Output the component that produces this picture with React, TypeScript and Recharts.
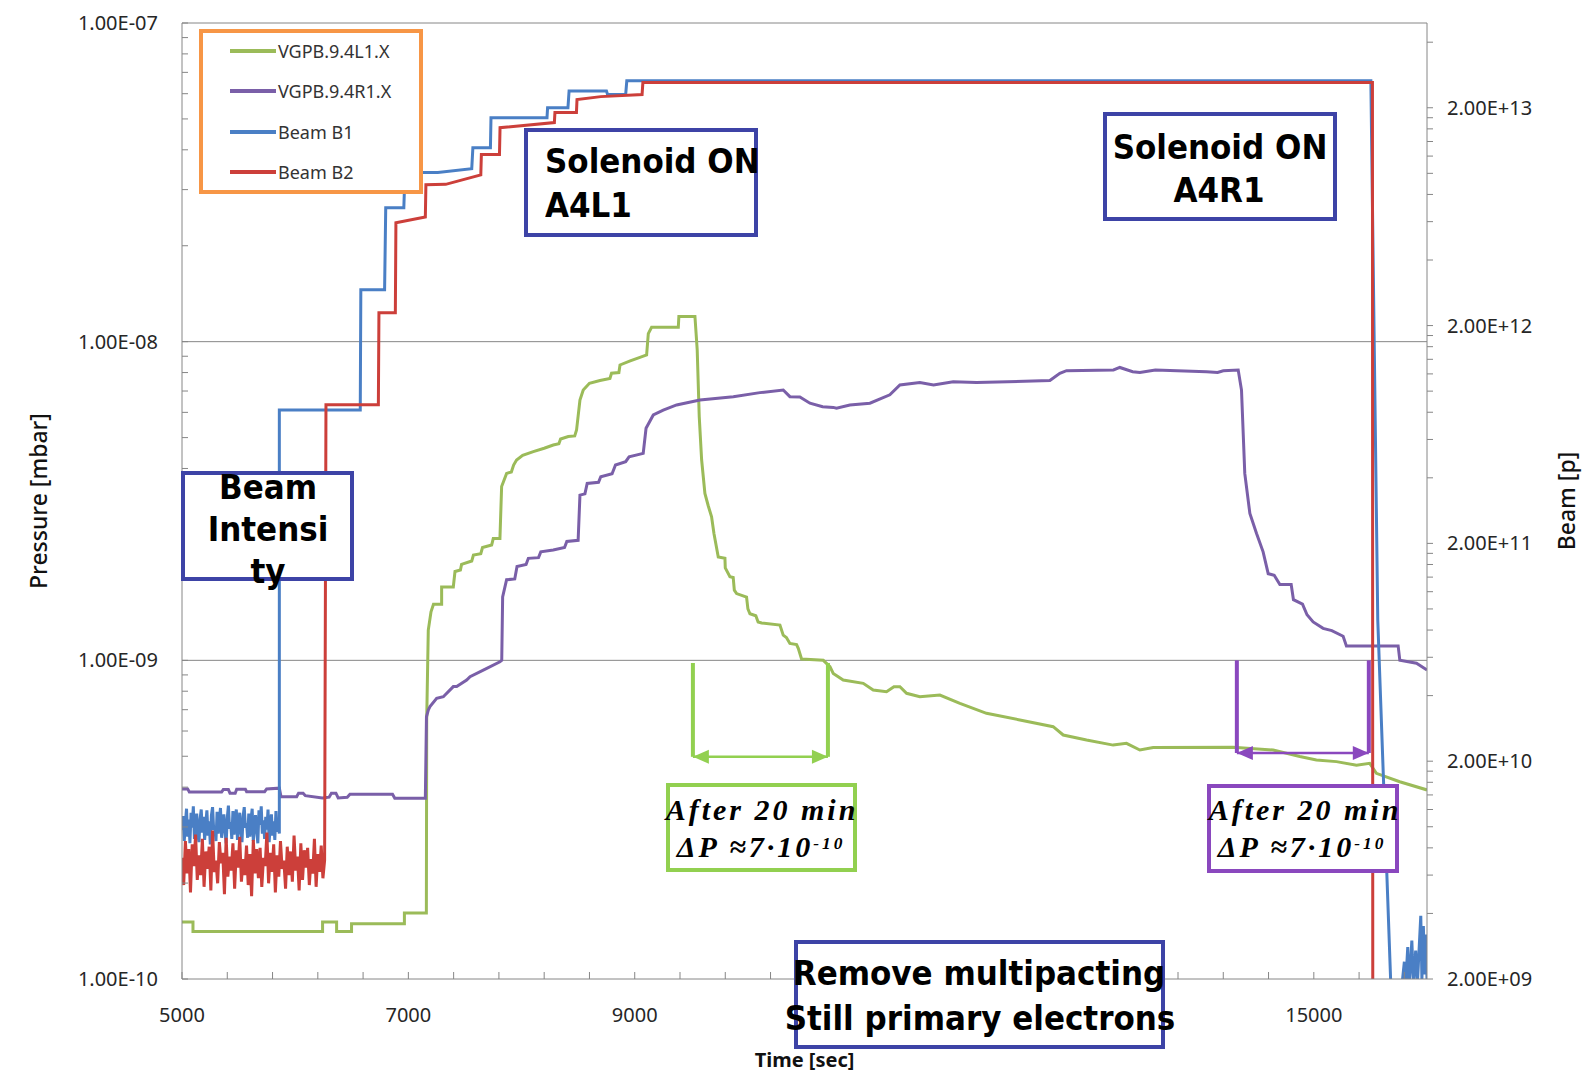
import React from 'react';
import { LineChart, Line, XAxis, YAxis, ReferenceLine } from 'recharts';

type Pt = [number, number];

// x axis: tick every 400 s; 11000 and 13000 sit under the note box, so only these are labelled
const xTicks = [
  5000, 5400, 5800, 6200, 6600, 7000, 7400, 7800, 8200, 8600, 9000, 9400, 9800, 10200,
  10600, 11000, 11400, 11800, 12200, 12600, 13000, 13400, 13800, 14200, 14600, 15000, 15400, 15800,
];
const xTickLabels = [5000, 7000, 9000, 15000];

const pressureTicks = [
  1e-10, 2e-10, 3e-10, 4e-10, 5e-10, 6e-10, 7e-10, 8e-10, 9e-10,
  1e-9, 2e-9, 3e-9, 4e-9, 5e-9, 6e-9, 7e-9, 8e-9, 9e-9,
  1e-8, 2e-8, 3e-8, 4e-8, 5e-8, 6e-8, 7e-8, 8e-8, 9e-8, 1e-7,
];
const pressureTickLabels = [1e-10, 1e-9, 1e-8, 1e-7];
const pressureGrid = [1e-9, 1e-8, 1e-7];

const beamTicks = [
  2e9, 4e9, 6e9, 8e9, 1e10, 1.2e10, 1.4e10, 1.6e10, 1.8e10,
  2e10, 4e10, 6e10, 8e10, 1e11, 1.2e11, 1.4e11, 1.6e11, 1.8e11,
  2e11, 4e11, 6e11, 8e11, 1e12, 1.2e12, 1.4e12, 1.6e12, 1.8e12,
  2e12, 4e12, 6e12, 8e12, 1e13, 1.2e13, 1.4e13, 1.6e13, 1.8e13,
  2e13, 4e13,
];
const beamTickLabels = [2e9, 2e10, 2e11, 2e12, 2e13];

// VGPB.9.4L1.X  [time s, mbar]
const vgpbL1: Pt[] = [
  [5000, 1.51e-10], [5097, 1.51e-10], [5097, 1.41e-10], [6242, 1.41e-10], [6242, 1.51e-10],
  [6366, 1.51e-10], [6366, 1.41e-10], [6498, 1.41e-10], [6498, 1.49e-10], [6965, 1.49e-10],
  [6965, 1.61e-10], [7159, 1.61e-10], [7162, 6.5e-10], [7176, 1.245e-9], [7200, 1.42e-9],
  [7222, 1.5e-9], [7294, 1.5e-9], [7294, 1.7e-9], [7397, 1.7e-9], [7412, 1.9e-9],
  [7460, 1.92e-9], [7470, 2.0e-9], [7560, 2.05e-9], [7575, 2.14e-9], [7640, 2.16e-9],
  [7655, 2.26e-9], [7736, 2.3e-9], [7750, 2.41e-9], [7809, 2.41e-9], [7824, 3.51e-9],
  [7868, 3.86e-9], [7910, 3.9e-9], [7930, 4.1e-9], [7956, 4.25e-9], [8010, 4.4e-9],
  [8104, 4.52e-9], [8200, 4.63e-9], [8280, 4.74e-9], [8330, 4.78e-9], [8345, 4.95e-9],
  [8413, 5.04e-9], [8470, 5.06e-9], [8486, 5.28e-9], [8516, 6.56e-9], [8545, 7.05e-9],
  [8600, 7.4e-9], [8693, 7.55e-9], [8781, 7.67e-9], [8795, 7.96e-9], [8860, 8.0e-9],
  [8870, 8.45e-9], [8960, 8.7e-9], [9046, 8.93e-9], [9105, 9.08e-9], [9120, 1.06e-8],
  [9149, 1.11e-8], [9385, 1.11e-8], [9390, 1.2e-8], [9532, 1.2e-8], [9552, 9.42e-9],
  [9570, 5.82e-9], [9591, 4.26e-9], [9620, 3.34e-9], [9650, 3.05e-9], [9679, 2.82e-9],
  [9700, 2.5e-9], [9738, 2.11e-9], [9797, 2.09e-9], [9800, 1.95e-9], [9841, 1.83e-9],
  [9870, 1.82e-9], [9880, 1.66e-9], [9900, 1.62e-9], [9988, 1.58e-9], [10000, 1.45e-9],
  [10018, 1.4e-9], [10070, 1.38e-9], [10090, 1.32e-9], [10121, 1.31e-9], [10283, 1.29e-9],
  [10312, 1.2e-9], [10340, 1.18e-9], [10371, 1.13e-9], [10430, 1.12e-9], [10445, 1.09e-9],
  [10474, 1.01e-9], [10666, 1.0e-9], [10725, 9.55e-10], [10754, 9.1e-10], [10842, 8.67e-10],
  [11019, 8.47e-10], [11107, 8.07e-10], [11225, 7.97e-10], [11290, 8.26e-10], [11343, 8.26e-10],
  [11402, 7.88e-10], [11519, 7.69e-10], [11696, 7.78e-10], [11873, 7.33e-10], [12108, 6.82e-10],
  [12403, 6.5e-10], [12697, 6.19e-10], [12786, 5.83e-10], [12992, 5.62e-10], [13227, 5.42e-10],
  [13345, 5.49e-10], [13463, 5.23e-10], [13581, 5.33e-10], [14287, 5.34e-10], [14641, 5.23e-10],
  [14876, 4.99e-10], [15023, 4.87e-10], [15200, 4.81e-10], [15377, 4.69e-10], [15494, 4.75e-10],
  [15553, 4.42e-10], [15759, 4.16e-10], [16000, 3.92e-10],
];

// VGPB.9.4R1.X  [time s, mbar]
const vgpbR1: Pt[] = [
  [5000, 3.95e-10], [5050, 3.95e-10], [5065, 3.86e-10], [5350, 3.86e-10], [5365, 3.93e-10],
  [5410, 3.93e-10], [5424, 3.83e-10], [5470, 3.83e-10], [5483, 3.94e-10], [5560, 3.94e-10],
  [5571, 3.87e-10], [5730, 3.87e-10], [5748, 3.95e-10], [5860, 3.97e-10], [5875, 3.73e-10],
  [6013, 3.73e-10], [6030, 3.83e-10], [6070, 3.83e-10], [6090, 3.76e-10], [6240, 3.7e-10],
  [6300, 3.72e-10], [6320, 3.83e-10], [6360, 3.83e-10], [6380, 3.7e-10], [6460, 3.72e-10],
  [6484, 3.8e-10], [6860, 3.8e-10], [6880, 3.69e-10], [7150, 3.69e-10], [7160, 6.65e-10],
  [7176, 6.98e-10], [7191, 7.16e-10], [7250, 7.6e-10], [7309, 7.69e-10], [7397, 8.27e-10],
  [7427, 8.27e-10], [7515, 8.67e-10], [7545, 8.89e-10], [7662, 9.32e-10], [7809, 9.9e-10],
  [7825, 1.0e-9], [7833, 1.58e-9], [7868, 1.79e-9], [7940, 1.8e-9], [7960, 1.97e-9],
  [8040, 2.0e-9], [8060, 2.09e-9], [8150, 2.1e-9], [8170, 2.19e-9], [8280, 2.22e-9],
  [8380, 2.26e-9], [8400, 2.36e-9], [8500, 2.38e-9], [8516, 3.3e-9], [8560, 3.33e-9],
  [8580, 3.59e-9], [8680, 3.62e-9], [8700, 3.77e-9], [8800, 3.85e-9], [8830, 4.1e-9],
  [8920, 4.2e-9], [8950, 4.35e-9], [9075, 4.46e-9], [9100, 5.35e-9], [9164, 5.89e-9],
  [9252, 6.1e-9], [9370, 6.33e-9], [9576, 6.56e-9], [9871, 6.72e-9], [10106, 6.92e-9],
  [10312, 7.05e-9], [10371, 6.72e-9], [10459, 6.7e-9], [10548, 6.41e-9], [10660, 6.25e-9],
  [10754, 6.22e-9], [10783, 6.18e-9], [10901, 6.33e-9], [11078, 6.41e-9], [11254, 6.81e-9],
  [11343, 7.31e-9], [11519, 7.44e-9], [11640, 7.31e-9], [11814, 7.49e-9], [12020, 7.44e-9],
  [12668, 7.55e-9], [12756, 7.96e-9], [12815, 8.11e-9], [13230, 8.15e-9], [13286, 8.3e-9],
  [13400, 8.05e-9], [13463, 8.0e-9], [13600, 8.15e-9], [14052, 8.05e-9], [14150, 8.0e-9],
  [14200, 8.1e-9], [14332, 8.15e-9], [14361, 7.05e-9], [14390, 3.86e-9], [14435, 2.89e-9],
  [14494, 2.5e-9], [14552, 2.19e-9], [14597, 1.87e-9], [14650, 1.85e-9], [14700, 1.73e-9],
  [14800, 1.73e-9], [14820, 1.55e-9], [14900, 1.5e-9], [14940, 1.39e-9], [14994, 1.32e-9],
  [15082, 1.26e-9], [15159, 1.24e-9], [15259, 1.19e-9], [15288, 1.11e-9], [15745, 1.11e-9],
  [15760, 1.0e-9], [15907, 9.79e-10], [16000, 9.33e-10],
];

// Beam B1  [time s, protons]; noisy pilot readings before injection
const beamB1: Pt[] = [
  [5000, 9.6e9], [5010, 1.12e10], [5020, 8.6e9], [5030, 1.04e10], [5040, 1.21e10], [5050, 9.0e9],
  [5060, 1.08e10], [5070, 8.4e9], [5080, 1.16e10], [5090, 9.9e9], [5100, 1.24e10], [5110, 8.8e9],
  [5120, 1.01e10], [5130, 1.15e10], [5140, 9.2e9], [5150, 8.5e9], [5160, 1.09e10], [5170, 1.2e10],
  [5180, 9.4e9], [5190, 1.11e10], [5200, 8.7e9], [5210, 1.03e10], [5220, 1.19e10], [5230, 9.1e9],
  [5240, 1.06e10], [5250, 8.3e9], [5260, 1.13e10], [5270, 1.23e10], [5280, 9.7e9], [5290, 1.0e10],
  [5300, 8.6e9], [5310, 1.17e10], [5320, 9.3e9], [5330, 1.07e10], [5340, 1.22e10], [5350, 8.9e9],
  [5360, 1.02e10], [5370, 1.14e10], [5380, 9.5e9], [5390, 8.4e9], [5400, 1.1e10], [5410, 1.25e10],
  [5420, 9.8e9], [5430, 1.05e10], [5440, 8.8e9], [5450, 1.18e10], [5460, 9.2e9], [5470, 1.09e10],
  [5480, 1.2e10], [5490, 8.7e9], [5500, 1.01e10], [5510, 1.16e10], [5520, 9.4e9], [5530, 8.5e9],
  [5540, 1.12e10], [5550, 1.23e10], [5560, 9.9e9], [5570, 1.04e10], [5580, 8.9e9], [5590, 1.15e10],
  [5600, 9.0e9], [5610, 1.08e10], [5620, 1.21e10], [5630, 8.6e9], [5640, 1.0e10], [5650, 1.13e10],
  [5660, 9.6e9], [5670, 8.4e9], [5680, 1.19e10], [5690, 1.02e10], [5700, 1.24e10], [5710, 9.3e9],
  [5720, 1.07e10], [5730, 8.8e9], [5740, 1.11e10], [5750, 9.7e9], [5760, 1.2e10], [5770, 8.5e9],
  [5780, 1.03e10], [5790, 1.14e10], [5800, 9.1e9], [5810, 1.06e10], [5820, 8.7e9], [5830, 1.18e10],
  [5840, 9.5e9], [5850, 1.01e10], [5860, 9.3e9],
  [5860, 8.2e11], [6575, 8.2e11], [6580, 2.92e12], [6790, 2.92e12],
  [6800, 6.95e12], [6960, 6.95e12], [6970, 1.01e13], [7260, 1.01e13], [7560, 1.05e13],
  [7570, 1.31e13], [7725, 1.31e13], [7730, 1.8e13], [8225, 1.8e13], [8230, 2.0e13],
  [8410, 2.0e13], [8420, 2.39e13], [8750, 2.39e13], [8760, 2.3e13], [8920, 2.3e13],
  [8930, 2.66e13], [15504, 2.66e13], [15565, 8.9e10], [15680, 1.9e9], [15700, 1.8e9],
  [15780, 1.9e9], [15800, 2.4e9], [15812, 1.9e9], [15830, 2.8e9], [15842, 1.9e9], [15852, 2.2e9],
  [15866, 3.0e9], [15880, 1.9e9], [15900, 2.7e9], [15915, 1.9e9], [15945, 3.9e9], [15955, 2.0e9],
  [15968, 3.5e9], [15978, 2.1e9], [15990, 3.2e9], [16000, 2.0e9],
];

// Beam B2  [time s, protons]
const beamB2: Pt[] = [
  [5000, 7.2e9], [5015, 5.4e9], [5030, 8.6e9], [5045, 6.1e9], [5060, 7.9e9], [5075, 5.0e9],
  [5090, 8.3e9], [5105, 6.6e9], [5120, 9.2e9], [5135, 5.7e9], [5150, 7.4e9], [5165, 6.0e9],
  [5180, 8.8e9], [5195, 5.3e9], [5210, 7.7e9], [5225, 6.4e9], [5240, 8.1e9], [5255, 5.1e9],
  [5270, 9.6e9], [5285, 6.2e9], [5300, 7.0e9], [5315, 5.5e9], [5330, 8.5e9], [5345, 6.8e9],
  [5360, 7.6e9], [5375, 4.9e9], [5390, 8.9e9], [5405, 5.9e9], [5420, 7.3e9], [5435, 6.3e9],
  [5450, 8.4e9], [5465, 5.2e9], [5480, 7.8e9], [5495, 6.5e9], [5510, 9.0e9], [5525, 5.6e9],
  [5540, 7.1e9], [5555, 6.0e9], [5570, 8.2e9], [5585, 5.4e9], [5600, 7.5e9], [5615, 4.8e9],
  [5630, 8.7e9], [5645, 6.1e9], [5660, 7.9e9], [5675, 5.8e9], [5690, 8.0e9], [5705, 5.3e9],
  [5720, 7.2e9], [5735, 6.6e9], [5750, 9.4e9], [5765, 5.5e9], [5780, 7.6e9], [5795, 6.2e9],
  [5810, 8.3e9], [5825, 5.0e9], [5840, 7.4e9], [5855, 5.9e9], [5870, 8.6e9], [5885, 6.4e9],
  [5900, 7.0e9], [5915, 5.2e9], [5930, 8.1e9], [5945, 6.0e9], [5960, 7.7e9], [5975, 5.6e9],
  [5990, 9.1e9], [6005, 6.3e9], [6020, 7.3e9], [6035, 5.1e9], [6050, 8.4e9], [6065, 5.7e9],
  [6080, 7.8e9], [6095, 6.5e9], [6110, 8.0e9], [6125, 5.4e9], [6140, 7.1e9], [6155, 6.1e9],
  [6170, 8.8e9], [6185, 5.3e9], [6200, 7.5e9], [6215, 6.2e9], [6230, 8.2e9], [6245, 5.8e9],
  [6260, 7.0e9],
  [6272, 8.65e11], [6735, 8.65e11], [6740, 2.29e12], [6885, 2.29e12], [6890, 5.93e12],
  [7150, 6.3e12], [7155, 8.86e12], [7330, 8.9e12], [7640, 9.84e12], [7645, 1.22e13],
  [7805, 1.22e13], [7810, 1.62e13], [8290, 1.71e13], [8295, 1.9e13], [8485, 1.9e13],
  [8490, 2.18e13], [8700, 2.25e13], [9065, 2.3e13], [9072, 2.61e13], [15518, 2.61e13],
  [15521, 1.0e9],
];

// "after 20 min" brackets: [start, end] time, [top, arrow] pressure
const greenBracketX = [9514, 10707];
const greenBracketY = [9.81e-10, 4.98e-10];
const purpleBracketX = [14320, 15486];
const purpleBracketY = [1.0e-9, 5.12e-10];

const series = [
  { name: 'VGPB.9.4L1.X', data: vgpbL1, color: '#9BBB59', axis: 'left' },
  { name: 'VGPB.9.4R1.X', data: vgpbR1, color: '#7A5FA8', axis: 'left' },
  { name: 'Beam B1', data: beamB1, color: '#4A7FC5', axis: 'right' },
  { name: 'Beam B2', data: beamB2, color: '#CC3F3A', axis: 'right' },
];

const AXIS_GREY = '#868686';
const TICK_TEXT = '#262626';
const NAVY = '#3D43A6';
const NOTE_GREEN = '#92D050';
const NOTE_PURPLE = '#8A48BE';
const comic = '"Comic Sans MS", "DejaVu Sans", sans-serif';
const hand = '"Lucida Handwriting", "Liberation Serif", serif';

const pts = (a: Pt[]) => a.map(([x, y]) => ({ x, y }));

const inList = (list: number[], v: number) => list.some((l) => Math.abs(l - v) / l < 1e-6);

const sci = (v: number) => {
  const e = Math.floor(Math.log10(v) + 1e-9);
  const m = v / Math.pow(10, e);
  return `${m.toFixed(2)}E${e < 0 ? '-' : '+'}${String(Math.abs(e)).padStart(2, '0')}`;
};

const arrowShape = (color: string) => (p: any) => {
  const { x1, y1, x2, y2 } = p;
  const head = 16;
  const half = 7;
  return (
    <g>
      <line x1={x1} y1={y1} x2={x2} y2={y2} stroke={color} strokeWidth={2.5} />
      <polygon points={`${x1},${y1} ${x1 + head},${y1 - half} ${x1 + head},${y1 + half}`} fill={color} />
      <polygon points={`${x2},${y2} ${x2 - head},${y2 - half} ${x2 - head},${y2 + half}`} fill={color} />
    </g>
  );
};

type NoteLine = { text: React.ReactNode; x: number; y: number; anchor?: 'start' | 'middle' };
type Note = {
  box: [number, number, number, number];
  color: string;
  font: string;
  size: number;
  squeeze: number;
  italic?: boolean;
  lineHeight: number;
  lines: NoteLine[];
};

const delta = (
  <>
    ΔP ≈7·10
    <sup style={{ fontSize: '0.58em', verticalAlign: '0.45em', lineHeight: 0 }}>-10</sup>
  </>
);

const notes: Note[] = [
  {
    box: [524, 128, 234, 109], color: NAVY, font: comic, size: 33, squeeze: 0.94, lineHeight: 40,
    lines: [
      { text: 'Solenoid ON', x: 545, y: 162, anchor: 'start' },
      { text: 'A4L1', x: 545, y: 206, anchor: 'start' },
    ],
  },
  {
    box: [1103, 112, 234, 109], color: NAVY, font: comic, size: 33, squeeze: 0.94, lineHeight: 40,
    lines: [
      { text: 'Solenoid ON', x: 1220, y: 148 },
      { text: 'A4R1', x: 1219, y: 191 },
    ],
  },
  {
    box: [181, 471, 173, 110], color: NAVY, font: comic, size: 33, squeeze: 0.94, lineHeight: 40,
    lines: [
      { text: 'Beam', x: 268, y: 488 },
      { text: 'Intensi', x: 268, y: 530 },
      { text: 'ty', x: 268, y: 572 },
    ],
  },
  {
    box: [794, 940, 371, 109], color: NAVY, font: comic, size: 33, squeeze: 0.94, lineHeight: 40,
    lines: [
      { text: 'Remove multipacting', x: 979, y: 974 },
      { text: 'Still primary electrons', x: 980, y: 1019 },
    ],
  },
  {
    box: [666, 783, 191, 89], color: NOTE_GREEN, font: hand, size: 30, squeeze: 1, italic: true, lineHeight: 28,
    lines: [
      { text: 'After 20 min', x: 762, y: 810 },
      { text: delta, x: 761, y: 847 },
    ],
  },
  {
    box: [1207, 784, 192, 89], color: NOTE_PURPLE, font: hand, size: 30, squeeze: 1, italic: true, lineHeight: 28,
    lines: [
      { text: 'After 20 min', x: 1305, y: 810 },
      { text: delta, x: 1302, y: 847 },
    ],
  },
];

function NoteBox({ note }: { note: Note }) {
  const [l, t, w, h] = note.box;
  return (
    <>
      <div
        style={{
          position: 'absolute', left: l, top: t, width: w, height: h, boxSizing: 'border-box',
          border: `4px solid ${note.color}`, background: '#fff',
        }}
      />
      {note.lines.map((ln, i) => (
        <div
          key={i}
          style={{
            position: 'absolute', left: ln.x, top: ln.y - note.lineHeight / 2, height: note.lineHeight,
            lineHeight: `${note.lineHeight}px`, whiteSpace: 'nowrap', fontFamily: note.font,
            fontSize: note.size, fontWeight: 700, fontStyle: note.italic ? 'italic' : 'normal',
            letterSpacing: note.italic ? 3 : 0, color: '#000',
            transformOrigin: ln.anchor === 'start' ? 'left center' : 'center',
            transform: ln.anchor === 'start'
              ? `scaleX(${note.squeeze})`
              : `translateX(-50%) scaleX(${note.squeeze})`,
          }}
        >
          {ln.text}
        </div>
      ))}
    </>
  );
}

function LegendBox() {
  const rows = [51, 91, 132, 172];
  return (
    <div
      style={{
        position: 'absolute', left: 199, top: 29, width: 224, height: 165, boxSizing: 'border-box',
        border: '4px solid #F79646', background: '#fff',
      }}
    >
      {series.map((s, i) => (
        <div
          key={s.name}
          style={{
            position: 'absolute', left: 27, top: rows[i] - 29 - 4 - 12, height: 24,
            display: 'flex', alignItems: 'center',
          }}
        >
          <div style={{ width: 46, height: 4, background: s.color }} />
          <span style={{ marginLeft: 2, fontFamily: 'Noto Sans', fontSize: 18, color: '#333' }}>{s.name}</span>
        </div>
      ))}
    </div>
  );
}

export default function App() {
  const tickFont = { fill: TICK_TEXT, fontSize: 20, fontFamily: 'Noto Sans' };
  return (
    <div style={{ position: 'relative', width: 1582, height: 1072, background: '#fff' }}>
      <style>{'body{margin:0}'}</style>
      <LineChart width={1582} height={1072} margin={{ top: 23, right: 0, bottom: 0, left: 0 }}>
        <XAxis
          type="number" dataKey="x" domain={[5000, 16000]} ticks={xTicks} interval={0} allowDataOverflow
          height={93} tickSize={-7} tickMargin={36}
          axisLine={{ stroke: AXIS_GREY }} tickLine={{ stroke: AXIS_GREY }}
          tick={tickFont}
          tickFormatter={(v: number) => (inList(xTickLabels, v) ? String(v) : '')}
          label={{
            value: 'Time [sec]', position: 'insideBottom', offset: 5,
            style: { fontFamily: 'Noto Sans', fontSize: 20, fontWeight: 700, fill: '#111' },
          }}
        />
        <YAxis
          yAxisId="left" scale="log" domain={[1e-10, 1e-7]} ticks={pressureTicks} interval={0} allowDataOverflow
          width={182} tickSize={-6} tickMargin={30}
          axisLine={{ stroke: AXIS_GREY }} tickLine={{ stroke: AXIS_GREY }}
          tick={tickFont}
          tickFormatter={(v: number) => (inList(pressureTickLabels, v) ? sci(v) : '')}
          label={{
            value: 'Pressure [mbar]', angle: -90, position: 'insideLeft', offset: 39,
            style: { textAnchor: 'middle', fontFamily: 'Noto Sans', fontSize: 23, fontWeight: 500, fill: '#111' },
          }}
        />
        <YAxis
          yAxisId="right" orientation="right" scale="log" domain={[2e9, 4.9e13]} ticks={beamTicks} interval={0}
          allowDataOverflow width={155} tickSize={6} tickMargin={14}
          axisLine={{ stroke: AXIS_GREY }} tickLine={{ stroke: AXIS_GREY }}
          tick={tickFont}
          tickFormatter={(v: number) => (inList(beamTickLabels, v) ? sci(v) : '')}
          label={{
            value: 'Beam [p]', angle: -90, position: 'insideRight', offset: 15,
            style: { textAnchor: 'middle', fontFamily: 'Noto Sans', fontSize: 23, fontWeight: 500, fill: '#111' },
          }}
        />
        {pressureGrid.map((g) => (
          <ReferenceLine key={g} yAxisId="left" y={g} stroke={AXIS_GREY} strokeWidth={1} />
        ))}
        {series.map((s) => (
          <Line
            key={s.name} yAxisId={s.axis} data={pts(s.data)} dataKey="y" name={s.name} type="linear"
            stroke={s.color} strokeWidth={3} dot={false} activeDot={false} isAnimationActive={false}
          />
        ))}
        {[
          { xs: greenBracketX, ys: greenBracketY, color: NOTE_GREEN },
          { xs: purpleBracketX, ys: purpleBracketY, color: NOTE_PURPLE },
        ].flatMap((b, i) => [
          <ReferenceLine
            key={`l${i}`} yAxisId="left" stroke={b.color} strokeWidth={4}
            segment={[{ x: b.xs[0], y: b.ys[0] }, { x: b.xs[0], y: b.ys[1] }]}
          />,
          <ReferenceLine
            key={`r${i}`} yAxisId="left" stroke={b.color} strokeWidth={4}
            segment={[{ x: b.xs[1], y: b.ys[0] }, { x: b.xs[1], y: b.ys[1] }]}
          />,
          <ReferenceLine
            key={`a${i}`} yAxisId="left" shape={arrowShape(b.color)}
            segment={[{ x: b.xs[0], y: b.ys[1] }, { x: b.xs[1], y: b.ys[1] }]}
          />,
        ])}
      </LineChart>
      <LegendBox />
      {notes.map((n, i) => (
        <NoteBox key={i} note={n} />
      ))}
    </div>
  );
}
